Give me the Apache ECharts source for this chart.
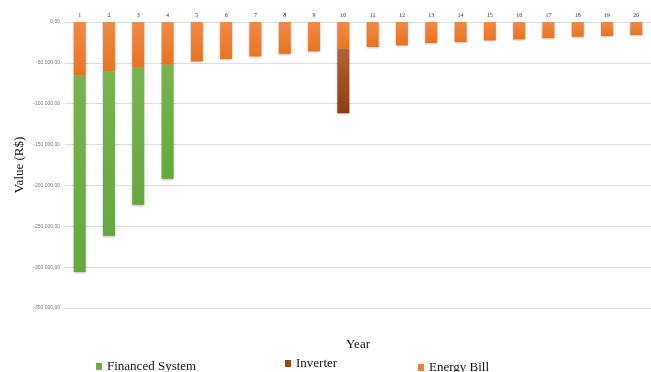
<!DOCTYPE html>
<html>
<head>
<meta charset="utf-8">
<style>
  html, body { margin: 0; padding: 0; background: #ffffff; }
  #chart { width: 651px; height: 372px; }
</style>
<script src="https://cdn.jsdelivr.net/npm/echarts@6/dist/echarts.min.js"></script>
</head>
<body>
<div id="chart"></div>
<script>
// Yearly cash flow (R$) of the financed PV system
const years = ['1','2','3','4','5','6','7','8','9','10','11','12','13','14','15','16','17','18','19','20'];
const energyBill = [-65700, -60400, -55900, -52200, -48200, -45300, -42000, -38800, -35900, -32700,
                    -30600, -28600, -25700, -24500, -22500, -21300, -19600, -18000, -17100, -15900];
const financedSystem = [-240200, -201100, -167700, -139500, null, null, null, null, null, null,
                        null, null, null, null, null, null, null, null, null, null];
const inverter = [null, null, null, null, null, null, null, null, null, -79100,
                  null, null, null, null, null, null, null, null, null, null];
const yTicks = { min: -350000, max: 0, step: 50000 };

const serif = '"Liberation Serif", "Times New Roman", serif';

function brl(v) {
  const neg = v < 0;
  const s = Math.abs(v).toFixed(0).replace(/\B(?=(\d{3})+(?!\d))/g, '.');
  return (neg ? '-' : '') + s + ',00';
}

function grad(top, bottom) {
  return new echarts.graphic.LinearGradient(0, 0, 0, 1, [
    { offset: 0, color: top }, { offset: 1, color: bottom }
  ]);
}

const orange = grad('#f08a45', '#e8741f');
const green = grad('#79b34f', '#66a83c');
const brown = grad('#b0643a', '#8e3d0c');

const barCommon = {
  type: 'bar',
  stack: 'total',
  barWidth: 12,
  itemStyle: { shadowColor: 'rgba(0,0,0,0.25)', shadowBlur: 2, shadowOffsetY: 1 }
};

const chart = echarts.init(document.getElementById('chart'));
chart.setOption({
  animation: false,
  backgroundColor: '#ffffff',
  grid: { left: 65, right: 0, top: 22, bottom: 64, containLabel: false, outerBoundsMode: 'none' },
  legend: [
    { data: [{ name: 'Financed System', itemStyle: { color: '#70ad47' } }], left: 91, top: 355 },
    { data: [{ name: 'Inverter', itemStyle: { color: '#9e480e' } }], left: 280, top: 352 },
    { data: [{ name: 'Energy Bill', itemStyle: { color: '#ed7d31' } }], left: 413, top: 356 }
  ].map(l => Object.assign({
    orient: 'horizontal', icon: 'rect', itemWidth: 6, itemHeight: 7, itemGap: 5,
    textStyle: { fontFamily: serif, fontSize: 13, color: '#111' },
    selectedMode: false
  }, l)),
  xAxis: {
    type: 'category',
    data: years,
    position: 'top',
    name: 'Year',
    nameLocation: 'middle',
    nameGap: -329,
    nameMoveOverlap: false,
    nameTextStyle: { fontFamily: serif, fontSize: 13, color: '#111' },
    axisLine: { show: false },
    axisTick: { show: false },
    axisLabel: { fontFamily: serif, fontSize: 6, color: '#333', margin: 4 }
  },
  yAxis: {
    type: 'value',
    min: yTicks.min,
    max: yTicks.max,
    interval: yTicks.step,
    name: 'Value (R$)',
    nameLocation: 'middle',
    nameGap: 39,
    nameMoveOverlap: false,
    nameRotate: 90,
    nameTextStyle: { fontFamily: serif, fontSize: 13, color: '#111' },
    axisLine: { show: false },
    axisTick: { show: false },
    axisLabel: { fontFamily: '"Liberation Sans", Arial, sans-serif', fontSize: 5, color: '#777', margin: 5, formatter: brl },
    splitLine: { lineStyle: { color: '#dedede', width: 1 } }
  },
  series: [
    Object.assign({}, barCommon, { name: 'Energy Bill', data: energyBill, itemStyle: Object.assign({}, barCommon.itemStyle, { color: orange }) }),
    Object.assign({}, barCommon, { name: 'Financed System', data: financedSystem, itemStyle: Object.assign({}, barCommon.itemStyle, { color: green }) }),
    Object.assign({}, barCommon, { name: 'Inverter', data: inverter, itemStyle: Object.assign({}, barCommon.itemStyle, { color: brown }) })
  ]
});
</script>
</body>
</html>
